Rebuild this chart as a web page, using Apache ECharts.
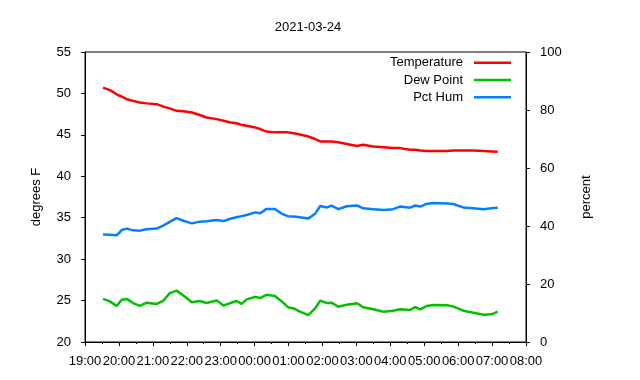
<!DOCTYPE html>
<html>
<head>
<meta charset="utf-8">
<script src="https://cdn.jsdelivr.net/npm/echarts@6/dist/echarts.min.js"></script>
<style>html,body{margin:0;padding:0;background:#fff}#c{width:640px;height:380px}</style>
</head>
<body>
<div id="c"></div>
<script>
var title = '2021-03-24';
var tickLabels = ['19:00','20:00','21:00','22:00','23:00','00:00','01:00','02:00','03:00','04:00','05:00','06:00','07:00','08:00'];
var times = ['19:32','19:44','19:56','20:05','20:14','20:25','20:37','20:49','21:07','21:19','21:30','21:42','21:54','22:09','22:23','22:35','22:53','23:05','23:17','23:28','23:37','23:46','00:01','00:10','00:21','00:36','00:48','00:59','01:09','01:20','01:35','01:47','01:56','02:08','02:16','02:28','02:43','03:01','03:12','03:30','03:48','04:05','04:17','04:35','04:44','04:53','05:04','05:16','05:40','05:51','06:09','06:27','06:45','06:59','07:10'];
var temperature = [50.7,50.4,49.9,49.6,49.3,49.1,48.9,48.8,48.7,48.4,48.2,47.9,47.85,47.7,47.4,47.1,46.9,46.7,46.5,46.4,46.2,46.1,45.9,45.7,45.4,45.3,45.3,45.3,45.2,45.05,44.8,44.5,44.2,44.2,44.2,44.1,43.9,43.65,43.8,43.6,43.5,43.4,43.4,43.2,43.2,43.1,43.05,43.05,43.05,43.1,43.1,43.1,43.05,43.0,42.95];
var dewPoint = [25.2,24.9,24.35,25.1,25.2,24.7,24.35,24.75,24.6,25.0,25.9,26.2,25.6,24.8,24.95,24.7,25.0,24.4,24.7,24.95,24.6,25.15,25.45,25.3,25.7,25.55,24.9,24.2,24.05,23.66,23.25,24.05,25.0,24.7,24.75,24.26,24.5,24.67,24.2,23.95,23.66,23.78,23.95,23.86,24.2,23.95,24.34,24.47,24.43,24.3,23.78,23.54,23.3,23.34,23.66];
var pctHum = [37.1,37.0,36.8,38.6,39.1,38.5,38.4,38.9,39.1,40.2,41.4,42.7,41.8,40.9,41.5,41.6,42.1,41.7,42.5,43.0,43.4,43.8,44.7,44.4,45.9,45.9,44.2,43.4,43.3,43.0,42.6,44.2,46.9,46.4,47.0,45.8,46.8,47.1,46.1,45.8,45.5,45.8,46.7,46.3,47.1,46.7,47.6,47.9,47.8,47.6,46.4,46.1,45.8,46.1,46.3];

function toMin(t){var p=t.split(':');var m=(+p[0])*60+(+p[1])-19*60;if(m<0)m+=1440;return m;}
function pairs(vals){return times.map(function(t,i){return [toMin(t),vals[i]];});}

var font = 'Liberation Sans, Arial, sans-serif';
var fs = 13;
var chart = echarts.init(document.getElementById('c'));
chart.setOption({
  animation:false,
  backgroundColor:'#fff',
  textStyle:{fontFamily:font,color:'#000'},
  title:{text:title,left:303,textAlign:'center',top:16,textStyle:{fontSize:fs,fontWeight:'normal',color:'#000',fontFamily:font}},
  legend:{orient:'vertical',right:129,top:54,align:'right',itemWidth:37,itemHeight:2.5,itemGap:0,padding:0,
    icon:'path://M0,0H37V2.5H0Z',
    textStyle:{fontSize:fs,color:'#000',fontFamily:font,lineHeight:17.3,padding:[0,6,0,0]},
    data:['Temperature','Dew Point','Pct Hum']},
  grid:{left:85,right:114,top:52,bottom:38,show:true,borderColor:'#000',borderWidth:1,containLabel:false},
  xAxis:{type:'value',min:0,max:780,interval:60,
    axisLine:{lineStyle:{color:'#000'}},
    axisTick:{length:4,lineStyle:{color:'#000'}},
    minorTick:{show:true,splitNumber:2,length:2,lineStyle:{color:'#000'}},
    splitLine:{show:false},
    axisLabel:{color:'#000',fontSize:fs,margin:13,fontFamily:font,formatter:function(v){return tickLabels[Math.round(v/60)];}}},
  yAxis:[
    {type:'value',min:20,max:55,interval:5,name:'degrees F',nameLocation:'middle',nameGap:42,nameRotate:90,
     nameTextStyle:{fontSize:fs,color:'#000',fontFamily:font},
     axisLine:{show:true,lineStyle:{color:'#000'}},axisTick:{show:true,length:4,lineStyle:{color:'#000'}},
     splitLine:{show:false},axisLabel:{color:'#000',fontSize:fs,margin:14,fontFamily:font}},
    {type:'value',min:0,max:100,interval:20,name:'percent',nameLocation:'middle',nameGap:54,nameRotate:90,
     nameTextStyle:{fontSize:fs,color:'#000',fontFamily:font},
     axisLine:{show:true,lineStyle:{color:'#000'}},axisTick:{show:true,length:4,lineStyle:{color:'#000'}},
     splitLine:{show:false},axisLabel:{color:'#000',fontSize:fs,margin:14,fontFamily:font}}
  ],
  series:[
    {name:'Temperature',type:'line',yAxisIndex:0,symbol:'none',showSymbol:false,data:pairs(temperature),lineStyle:{color:'#ff0000',width:2.5},itemStyle:{color:'#ff0000'}},
    {name:'Dew Point',type:'line',yAxisIndex:0,symbol:'none',showSymbol:false,data:pairs(dewPoint),lineStyle:{color:'#00c000',width:2.5},itemStyle:{color:'#00c000'}},
    {name:'Pct Hum',type:'line',yAxisIndex:1,symbol:'none',showSymbol:false,data:pairs(pctHum),lineStyle:{color:'#0080ff',width:2.5},itemStyle:{color:'#0080ff'}}
  ]
});
</script>
</body>
</html>
